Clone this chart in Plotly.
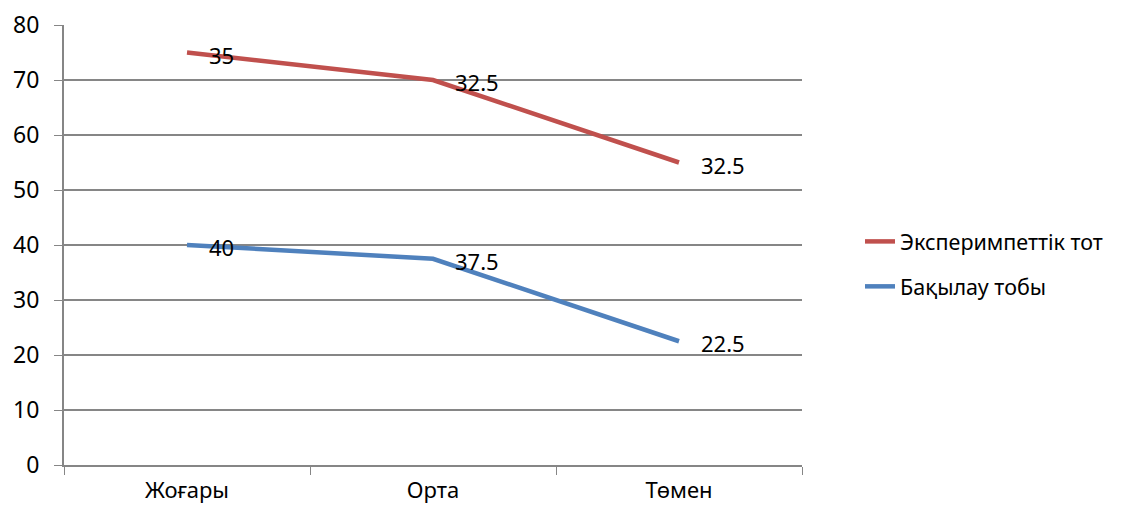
import plotly.graph_objects as go

categories = ["Жоғары", "Орта", "Төмен"]
control_name = "Бақылау тобы"
control_values = [40, 37.5, 22.5]
exp_name = "Эксперимпеттік тот"
exp_values = [35, 32.5, 32.5]
y_ticks = [0, 10, 20, 30, 40, 50, 60, 70, 80]

FONT = "Noto Sans"
FS = 23
fig = go.Figure()
fig.add_trace(go.Scatter(
    x=categories, y=control_values, name=control_name, stackgroup="s", fill="none",
    mode="lines", line=dict(color="#4F81BD", width=4.5), legendgroup="b",
    legendrank=2, hoverinfo="skip"))
fig.add_trace(go.Scatter(
    x=categories, y=exp_values, name=exp_name, stackgroup="s", fill="none",
    mode="lines", line=dict(color="#C0504D", width=4.5), legendgroup="a",
    legendrank=1, hoverinfo="skip"))

# data labels: placed at stacked positions, showing raw values
for i, c in enumerate(categories):
    base = control_values[i]
    top = control_values[i] + exp_values[i]
    for yv, v in ((base, control_values[i]), (top, exp_values[i])):
        fig.add_annotation(x=c, y=yv, text=f"{v:g}", showarrow=False,
                           xanchor="left", yanchor="middle", xshift=20, yshift=-2,
                           font=dict(size=22, color="black", family=FONT))

fig.update_layout(
    width=1122, height=511,
    margin=dict(l=56, r=328, t=17, b=54, autoexpand=False),
    paper_bgcolor="white", plot_bgcolor="white",
    font=dict(family=FONT, size=FS, color="black"),
    showlegend=True,
    legend=dict(x=1.0786, y=0.457, xanchor="left", yanchor="middle",
                traceorder="grouped", tracegroupgap=14,
                font=dict(size=21.5, family=FONT), itemwidth=30),
)
fig.update_xaxes(
    type="category", tickson="boundaries", ticks="outside", ticklen=8, tickcolor="#868686",
    showgrid=False, showline=True, linecolor="#868686", linewidth=2, automargin=False,
    tickfont=dict(size=22, family=FONT), range=[-0.5, 2.5], ticklabelstandoff=5,
)
fig.update_yaxes(
    range=[0, 80], tickvals=y_ticks, ticks="outside", ticklen=8, tickcolor="#868686",
    showgrid=True, gridcolor="#868686", gridwidth=2, showline=True, linecolor="#868686",
    linewidth=2, zeroline=False, automargin=False,
    tickfont=dict(size=FS, family=FONT), ticklabelstandoff=10,
)
fig.write_html("out.html")
